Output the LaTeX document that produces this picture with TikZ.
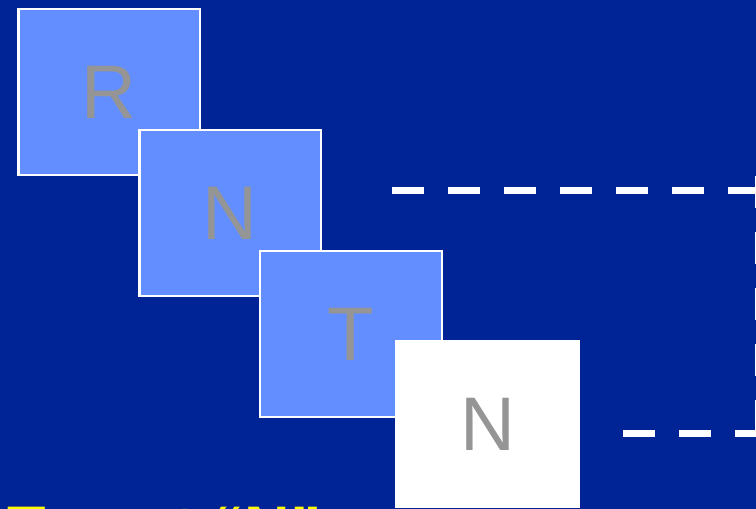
\documentclass[tikz,border=0pt]{standalone}
\usepackage{fontspec}
\setmainfont{Liberation Sans}
\definecolor{slidebg}{RGB}{0,35,149}
\definecolor{tilefill}{RGB}{99,142,255}
\definecolor{lettergray}{RGB}{149,149,149}
\definecolor{titleyellow}{RGB}{255,255,0}
\begin{document}
\begin{tikzpicture}[x=1pt,y=-1pt,
  tile/.style={rectangle,draw=white,line width=2.2pt,fill=tilefill,
    inner sep=0pt,text=lettergray,
    font=\fontsize{76}{80}\selectfont},
  lasttile/.style={rectangle,fill=white,inner sep=0pt,text=lettergray,
    minimum width=185pt,minimum height=168pt,
    font=\fontsize{76}{80}\selectfont},
  guide/.style={draw=white,line width=7pt,dash pattern=on 32pt off 24pt}]
  % background
  \fill[slidebg] (0,0) rectangle (756,509);
  \useasboundingbox (0,0) rectangle (756,509);

  % staircase of letter tiles
  \node[tile,minimum width=181.5pt,minimum height=166pt] (r)  at (109.25,92.2) {R};
  \node[tile,minimum width=181.5pt,minimum height=166pt] (n1) at (230.25,213) {N};
  \node[tile,minimum width=182pt,minimum height=166pt]   (t)  at (351,334) {T};
  \node[lasttile] (n2) at (487.5,424) {N};

  % dashed outline on the right
  \coordinate (topL) at (392,190.7);
  \coordinate (topR) at (758.9,190.7);
  \coordinate (sideT) at (758.9,176);
  \coordinate (sideB) at (758.9,433);
  \coordinate (botL) at (623,433);
  \coordinate (botR) at (758.9,433);
  \draw[guide] (topL) -- (topR);
  \draw[guide] (botL) -- (botR);
  \draw[guide] (sideT) -- (sideB);

  % caption, mostly below the lower edge
  \node[anchor=base west,inner sep=0pt,text=titleyellow,
    font=\fontsize{63}{70}\selectfont\bfseries] (cap) at (7.7,550.5) {Target “N”};
\end{tikzpicture}
\end{document}
